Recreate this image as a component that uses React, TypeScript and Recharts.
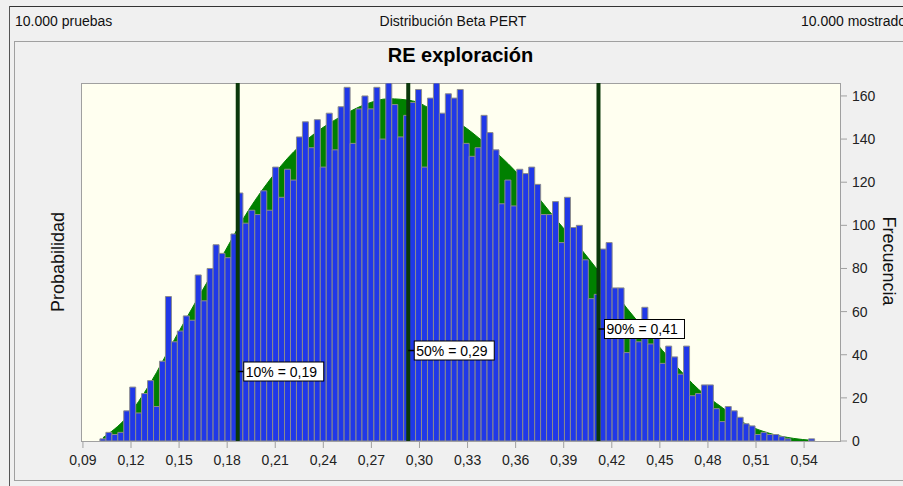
import React from 'react';
import { ComposedChart, Bar, Area, XAxis, YAxis, ReferenceLine } from 'recharts';

// ---- data ----
const BIN_START = 0.10061; // left edge of first histogram bin
const BIN_WIDTH = 0.003716; // width of one bin

const counts: number[] = [
  1, 4, 3, 4, 14, 25, 13, 22, 28, 16,
  37, 67, 46, 51, 58, 56, 77, 65, 80, 91,
  87, 85, 96, 115, 101, 107, 105, 116, 107, 127,
  113, 126, 121, 141, 148, 136, 149, 127, 152, 135,
  155, 164, 138, 154, 160, 154, 164, 140, 166, 156,
  141, 151, 157, 163, 127, 159, 166, 152, 161, 159,
  163, 138, 132, 136, 151, 143, 135, 110, 121, 109,
  126, 124, 127, 119, 105, 105, 111, 92, 113, 99,
  100, 84, 66, 68, 89, 92, 71, 71, 41, 49,
  46, 62, 45, 48, 36, 44, 39, 31, 44, 21,
  22, 26, 26, 15, 9, 16, 14, 11, 8, 7,
  3, 4, 3, 3, 2, 1, 0, 0, 0, 1,
];

// fitted Beta PERT curve (green), read at selected bins
const fitBins: number[] = [0, 4, 8, 12, 16, 20, 24, 28, 32, 36, 40, 44, 48, 52, 56, 60, 64, 68, 72, 76, 80, 84, 88, 92, 96, 100, 104, 108, 112, 116, 119];
const fitValues: number[] = [1.5, 11, 27, 47, 66.5, 85.5, 105, 121, 134, 143.5, 150.5, 156, 158.7, 157.7, 152.5, 147, 138.5, 128.7, 116.6, 103, 90, 76, 61.5, 48.3, 35.6, 24, 15.5, 7.8, 3.5, 1.2, 0.3];

const xTicks: number[] = [0.09, 0.12, 0.15, 0.18, 0.21, 0.24, 0.27, 0.3, 0.33, 0.36, 0.39, 0.42, 0.45, 0.48, 0.51, 0.54];
const freqTicks: number[] = [0, 20, 40, 60, 80, 100, 120, 140, 160];
const probTicks: number[] = [0.002, 0.004, 0.006, 0.008, 0.01, 0.012, 0.014];

const percentileValues: number[] = [0.1866, 0.293, 0.4117];
const percentileLabels: string[] = ['10% = 0,19', '50% = 0,29', '90% = 0,41'];

// ---- tables for the library ----
const binCenter = (i: number) => BIN_START + BIN_WIDTH * (i + 0.5);
const binData = counts.map((c, i) => ({ x: binCenter(i), count: c }));
const fitData = fitBins.map((b, k) => ({ x: binCenter(b), fit: fitValues[k] }));

const FONT = '"Liberation Sans", Arial, sans-serif';
const labelY = [371.5, 350.5, 329];

const PctLabel = (props: any) => {
  const { viewBox, text, cy } = props;
  const x = viewBox ? viewBox.x : 0;
  return (
    <g>
      <line x1={x} x2={x + 6} y1={cy} y2={cy} stroke="#000" strokeWidth={1.5} />
      <rect x={x + 6} y={cy - 9.5} width={80} height={19} fill="#ffffff" stroke="#000" strokeWidth={1} />
      <text x={x + 8} y={cy + 5} fontSize={14} fill="#000" fontFamily={FONT}>
        {text}
      </text>
    </g>
  );
};

const fmt = (v: number) => v.toFixed(2).replace('.', ',');

export default function App() {
  return (
    <div
      style={{
        position: 'absolute',
        left: 0,
        top: 0,
        width: 903,
        height: 486,
        background: '#f0f0f0',
        overflow: 'hidden',
        fontFamily: FONT,
        color: '#111',
      }}
    >
      {/* outer frame */}
      <div style={{ position: 'absolute', left: 9, top: 6, width: 900, height: 1, background: '#333' }} />
      <div style={{ position: 'absolute', left: 9, top: 6, width: 1, height: 480, background: '#555' }} />
      {/* header */}
      <div style={{ position: 'absolute', left: 15, top: 13, fontSize: 14, lineHeight: '16px', whiteSpace: 'nowrap' }}>10.000 pruebas</div>
      <div style={{ position: 'absolute', left: 353, width: 200, top: 13, fontSize: 14, lineHeight: '16px', textAlign: 'center', whiteSpace: 'nowrap' }}>
        Distribución Beta PERT
      </div>
      <div style={{ position: 'absolute', left: 801, top: 13, fontSize: 14, lineHeight: '16px', whiteSpace: 'nowrap' }}>10.000 mostrados</div>
      {/* inner panel */}
      <div
        style={{
          position: 'absolute',
          left: 14,
          top: 41,
          width: 950,
          height: 440,
          boxSizing: 'border-box',
          border: '1px solid #a0a0a0',
        }}
      />
      <div
        style={{
          position: 'absolute',
          left: 340,
          width: 241,
          top: 43,
          fontSize: 20,
          lineHeight: '24px',
          fontWeight: 'bold',
          textAlign: 'center',
          whiteSpace: 'nowrap',
          color: '#000',
        }}
      >
        RE exploración
      </div>
      {/* plot background */}
      <div
        style={{
          position: 'absolute',
          left: 81,
          top: 83,
          width: 760,
          height: 359,
          boxSizing: 'border-box',
          border: '1px solid #a0a0a0',
          background: '#fffff0',
        }}
      />
      {/* axis titles */}
      <div
        style={{
          position: 'absolute',
          left: 58 - 100,
          top: 262 - 12,
          width: 200,
          height: 24,
          lineHeight: '24px',
          fontSize: 18,
          textAlign: 'center',
          transform: 'rotate(-90deg)',
          color: '#111',
        }}
      >
        Probabilidad
      </div>
      <div
        style={{
          position: 'absolute',
          left: 889 - 100,
          top: 261 - 12,
          width: 200,
          height: 24,
          lineHeight: '24px',
          fontSize: 18,
          textAlign: 'center',
          transform: 'rotate(90deg)',
          color: '#111',
        }}
      >
        Frecuencia
      </div>
      {/* chart */}
      <div style={{ position: 'absolute', left: 0, top: 0 }}>
        <ComposedChart
          width={903}
          height={486}
          data={binData}
          margin={{ top: 83, right: 23, bottom: 15, left: 61 }}
          barCategoryGap={0}
          barGap={0}
        >
          <XAxis
            dataKey="x"
            type="number"
            domain={[0.0888, 0.5624]}
            allowDataOverflow
            ticks={xTicks}
            interval={0}
            tickFormatter={fmt}
            height={30}
            tickSize={7}
            tickMargin={7}
            axisLine={false}
            tickLine={{ stroke: '#a0a0a0' }}
            tick={{ fontSize: 14, fill: '#222', fontFamily: FONT }}
          />
          <YAxis
            yAxisId="prob"
            orientation="left"
            type="number"
            domain={[0, 0.01603]}
            allowDataOverflow
            ticks={probTicks}
            width={20}
            tickSize={7}
            axisLine={false}
            tickLine={{ stroke: '#a0a0a0' }}
            tick={false}
          />
          <YAxis
            yAxisId="freq"
            orientation="right"
            type="number"
            domain={[0, 166]}
            allowDataOverflow
            ticks={freqTicks}
            interval={0}
            width={40}
            tickSize={7}
            tickMargin={5}
            axisLine={false}
            tickLine={{ stroke: '#a0a0a0' }}
            tick={{ fontSize: 14, fill: '#222', fontFamily: FONT }}
          />
          <Area
            data={fitData}
            dataKey="fit"
            yAxisId="freq"
            type="monotone"
            fill="#008000"
            fillOpacity={1}
            stroke="#008000"
            strokeWidth={1}
            isAnimationActive={false}
          />
          <Bar
            dataKey="count"
            yAxisId="freq"
            fill="#2038e8"
            stroke="#8c8c8c"
            strokeWidth={1}
            isAnimationActive={false}
          />
          {percentileValues.map((v, i) => (
            <ReferenceLine
              key={i}
              x={v}
              yAxisId="freq"
              stroke="#0b380b"
              strokeWidth={4}
              label={<PctLabel text={percentileLabels[i]} cy={labelY[i]} />}
            />
          ))}
        </ComposedChart>
      </div>
    </div>
  );
}
